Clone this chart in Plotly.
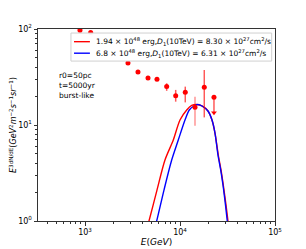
import plotly.graph_objects as go

# Observed data points
E_data = [885, 1147, 2833, 3611, 4603, 5722, 7238, 9006, 11360, 14380, 18010, 22780]
F_data = [97, 91.9, 44.3, 35.7, 30.9, 29.9, 25.2, 20.2, 21.9, 15.3, 24.7, 19.4]
err_up = [0, 0, 0, 0, 0, 0, 2.0, 3.0, 3.2, 4.4, 12.7, 1.1]
err_down = [0, 0, 0, 0, 0, 0, 2.5, 2.7, 4.7, 5.5, 12.7, 6.0]

# Model curves
E_red = [4547, 4715, 5722, 6946, 8499, 9994, 11757, 13272, 15090, 17030, 19700,
         21710, 23350, 25290, 27000, 28550, 30480, 31990, 32460]
F_red = [0.887, 1.0, 2.10, 4.32, 6.98, 11.27, 14.33, 15.97, 16.35, 15.78, 13.99,
         11.27, 8.25, 4.87, 3.40, 2.37, 1.47, 1.0, 0.887]
E_blue = [5480, 5681, 6780, 8174, 9590, 11283, 12520, 14030, 15460, 17030, 19700,
          21710, 23350, 25100, 26810, 28340, 30110, 31450, 31910]
F_blue = [0.887, 1.0, 2.10, 4.32, 6.98, 11.27, 14.33, 15.78, 16.35, 15.78, 13.99,
          11.27, 8.25, 4.87, 3.40, 2.37, 1.47, 1.0, 0.887]

label_red = "1.94 × 10<sup>48</sup> erg,<i>D</i><sub>1</sub>(10TeV) = 8.30 × 10<sup>27</sup>cm<sup>2</sup>/s"
label_blue = "6.8 × 10<sup>48</sup> erg,<i>D</i><sub>1</sub>(10TeV) = 6.31 × 10<sup>27</sup>cm<sup>2</sup>/s"

x_ticks = [1e3, 1e4, 1e5]
x_ticktext = ["10<sup>3</sup>", "10<sup>4</sup>", "10<sup>5</sup>"]
y_ticks = [1, 10, 100]
y_ticktext = ["10<sup>0</sup>", "10<sup>1</sup>", "10<sup>2</sup>"]

FONT = "DejaVu Sans"

fig = go.Figure()

fig.add_trace(go.Scatter(x=E_red, y=F_red, mode="lines", name=label_red, showlegend=False,
                         line=dict(color="#ff0000", width=1.4, shape="spline", smoothing=0.8)))
fig.add_trace(go.Scatter(x=E_blue, y=F_blue, mode="lines", name=label_blue, showlegend=False,
                         line=dict(color="#0000ff", width=1.4, shape="spline", smoothing=0.8)))

idx_main = [i for i in range(len(E_data)) if i != 9]
fig.add_trace(go.Scatter(
    x=[E_data[i] for i in idx_main], y=[F_data[i] for i in idx_main],
    mode="markers", showlegend=False,
    marker=dict(color="#ff0000", size=5),
    error_y=dict(type="data", symmetric=False,
                 array=[err_up[i] for i in idx_main],
                 arrayminus=[err_down[i] for i in idx_main],
                 color="rgba(255,0,0,0.65)", thickness=1.5, width=0)))
fig.add_trace(go.Scatter(
    x=[E_data[9]], y=[F_data[9]], mode="markers", showlegend=False,
    marker=dict(color="#ff0000", size=5),
    error_y=dict(type="data", symmetric=False, array=[err_up[9]], arrayminus=[err_down[9]],
                 color="rgba(255,0,0,0.35)", thickness=1.8, width=0)))
# downward arrow at the end of the last point's bar
fig.add_trace(go.Scatter(
    x=[E_data[11]], y=[F_data[11] - err_down[11]], mode="markers", showlegend=False,
    marker=dict(color="#ff0000", size=5, symbol="triangle-down")))

axis_common = dict(type="log", showgrid=False, zeroline=False, showline=True,
                   linecolor="#333", linewidth=1, mirror=True, ticks="outside",
                   ticklen=3.5, tickcolor="#333", automargin=False,
                   tickfont=dict(family=FONT, size=8, color="#000"))

minor_x = [v * 10 ** d for d in (2, 3, 4) for v in range(2, 10) if 316 < v * 10 ** d < 1e5]
minor_y = [v * 10 ** d for d in (0, 1) for v in range(2, 10)]

fig.update_xaxes(range=[2.505, 5], tickvals=x_ticks, ticktext=x_ticktext,
                 minor=dict(tickvals=minor_x, ticks="outside", ticklen=2, tickcolor="#333"),
                 title=dict(text="<i>E</i>(<i>GeV</i>)", font=dict(family=FONT, size=9, color="#000"),
                            standoff=2),
                 **axis_common)
fig.update_yaxes(range=[0, 2], tickvals=y_ticks, ticktext=y_ticktext,
                 minor=dict(tickvals=minor_y, ticks="outside", ticklen=2, tickcolor="#333"),
                 title=dict(text="<i>E</i><sup>3dN/dE</sup>(<i>GeV</i><sup>2</sup><i>m</i><sup>−2</sup><i>s</i><sup>−1</sup><i>sr</i><sup>−1</sup>)",
                            font=dict(family=FONT, size=8, color="#000"), standoff=2),
                 **axis_common)

# Legend drawn in the upper right of the axes
fig.add_shape(type="rect", xref="paper", yref="paper", x0=0.139, x1=0.986, y0=0.833, y1=0.979,
              fillcolor="rgba(255,255,255,0.95)", line=dict(color="#d0d0d0", width=1), layer="above")
for yy, col, lab in [(0.934, "#ff0000", label_red), (0.874, "#0000ff", label_blue)]:
    fig.add_shape(type="line", xref="paper", yref="paper", x0=0.152, x1=0.219, y0=yy, y1=yy,
                  line=dict(color=col, width=1.4), layer="above")
    fig.add_annotation(x=0.236, y=yy, xref="paper", yref="paper", xanchor="left", yanchor="middle",
                       showarrow=False, text=lab, font=dict(family=FONT, size=7.5, color="#000"))

fig.add_annotation(x=0.08, y=0.79, xref="paper", yref="paper", xanchor="left", yanchor="top",
                   align="left", showarrow=False,
                   text="r0=50pc<br>t=5000yr<br>burst-like",
                   font=dict(family=FONT, size=7.5, color="#000"))

# The page body adds an 8px margin, so the figure is sized to fit the 306x249 window
fig.update_layout(
    width=298, height=241,
    margin=dict(l=30, r=31, t=21, b=28),
    paper_bgcolor="white", plot_bgcolor="white",
    font=dict(family=FONT, size=8, color="#000"),
    showlegend=False,
)

fig.write_html("out.html")
